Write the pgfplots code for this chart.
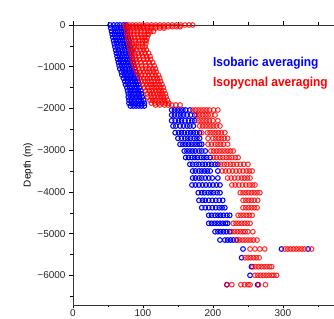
\documentclass[border=0pt]{standalone}
\usepackage{pgfplots}
\pgfplotsset{compat=1.18}
\usepackage{graphicx}
\usepackage{fontspec}
\setmainfont{Liberation Sans}
\definecolor{myblue}{RGB}{0,0,255}
\definecolor{myred}{RGB}{255,0,0}
\begin{document}
\begin{tikzpicture}
\begin{axis}[
  scale only axis, width=261bp, height=280bp,
  xmin=0, xmax=373, ymin=-6706, ymax=0,
  axis x line=box, axis y line*=left,
  xtick={0,100,200,300}, xticklabels={0,100,200,300},
  minor xtick={50,150,250,350},
  ytick={-6000,-5000,-4000,-3000,-2000,-1000,0},
  yticklabels={−6000,−5000,−4000,−3000,−2000,−1000,0},
  minor ytick={-6500,-5500,-4500,-3500,-2500,-1500,-500},
  xticklabel pos=left,
  tick align=outside,
  major tick length=3.5bp, minor tick length=2.5bp,
  tick style={black, line width=0.7bp},
  axis line style={black!80, line width=0.9bp},
  ticklabel style={font=\fontsize{10}{12}\selectfont, text=black!85},
  yticklabel style={xshift=-0.5bp},
  xticklabel style={yshift=2.5bp},
  ylabel={Depth (m)},
  ylabel style={font=\fontsize{9.5}{11}\selectfont, text=black!85},
  every axis y label/.style={at={(axis description cs:-0.172,0.5)}, rotate=90, anchor=center},
  clip=true,
]
% Isobaric averaging (blue)
\addplot[only marks, mark=o, color=myblue, mark size=2.35bp, mark options={line width=1.05bp}] coordinates {
(53,0)(58,0)(63,0)(67,0)(72,0)(76,0)
(54,-75)(59,-75)(63,-75)(68,-75)(72,-75)(77,-75)
(55,-150)(60,-150)(64,-150)(69,-150)(73,-150)(78,-150)
(56,-225)(60,-225)(65,-225)(69,-225)(74,-225)(78,-225)
(57,-300)(61,-300)(66,-300)(70,-300)(75,-300)(79,-300)
(58,-375)(62,-375)(67,-375)(71,-375)(76,-375)(80,-375)
(59,-450)(63,-450)(68,-450)(72,-450)(77,-450)(81,-450)
(60,-525)(64,-525)(69,-525)(73,-525)(78,-525)(82,-525)
(61,-600)(65,-600)(70,-600)(74,-600)(79,-600)(83,-600)
(62,-675)(66,-675)(71,-675)(75,-675)(80,-675)(84,-675)
(63,-750)(67,-750)(71,-750)(76,-750)(80,-750)(84,-750)
(64,-825)(68,-825)(72,-825)(77,-825)(81,-825)(85,-825)
(65,-900)(69,-900)(73,-900)(78,-900)(82,-900)(86,-900)
(66,-975)(70,-975)(74,-975)(79,-975)(83,-975)(87,-975)
(67,-1050)(71,-1050)(75,-1050)(80,-1050)(84,-1050)(88,-1050)
(69,-1125)(73,-1125)(77,-1125)(81,-1125)(85,-1125)(89,-1125)
(70,-1200)(74,-1200)(78,-1200)(82,-1200)(86,-1200)(90,-1200)
(72,-1275)(76,-1275)(80,-1275)(84,-1275)(88,-1275)(92,-1275)
(74,-1350)(78,-1350)(82,-1350)(85,-1350)(89,-1350)(93,-1350)
(75,-1425)(79,-1425)(83,-1425)(86,-1425)(90,-1425)(94,-1425)
(77,-1500)(81,-1500)(84,-1500)(88,-1500)(91,-1500)(95,-1500)
(78,-1575)(82,-1575)(86,-1575)(89,-1575)(93,-1575)(97,-1575)
(79,-1650)(83,-1650)(87,-1650)(90,-1650)(94,-1650)(98,-1650)
(79,-1725)(83,-1725)(87,-1725)(91,-1725)(95,-1725)(99,-1725)
(80,-1800)(84,-1800)(88,-1800)(93,-1800)(97,-1800)(101,-1800)
(80,-1875)(84,-1875)(89,-1875)(93,-1875)(98,-1875)(102,-1875)
(82,-1940)(86,-1940)(90,-1940)(94,-1940)(98,-1940)(102,-1940)
(141,-2036)(145,-2036)(149,-2036)(153,-2036)(157,-2036)(161,-2036)(167,-2036)
(141,-2156)(145,-2156)(150,-2156)(154,-2156)(158,-2156)(163,-2156)(168,-2156)(174,-2156)
(141,-2292)(146,-2292)(151,-2292)(155,-2292)(160,-2292)(165,-2292)(170,-2292)(174,-2292)
(143,-2419)(147,-2419)(153,-2419)(158,-2419)(163,-2419)(167,-2419)(172,-2419)
(146,-2580)(151,-2580)(155,-2580)(159,-2580)(164,-2580)(168,-2580)(172,-2580)(176,-2580)(181,-2580)
(150,-2714)(155,-2714)(160,-2714)(164,-2714)(168,-2714)(173,-2714)(177,-2714)(181,-2714)
(153,-2857)(157,-2857)(161,-2857)(165,-2857)(169,-2857)(173,-2857)(177,-2857)(181,-2857)(184,-2857)
(159,-3018)(163,-3018)(167,-3018)(171,-3018)(175,-3018)(180,-3018)(184,-3018)(189,-3018)
(161,-3174)(165,-3174)(170,-3174)(174,-3174)(178,-3174)(183,-3174)(187,-3174)(191,-3174)(196,-3174)
(167,-3337)(171,-3337)(176,-3337)(180,-3337)(185,-3337)(189,-3337)(194,-3337)(198,-3337)(203,-3337)(207,-3337)
(171,-3497)(175,-3497)(180,-3497)(184,-3497)(188,-3497)(192,-3497)(196,-3497)(207,-3497)
(171,-3665)(175,-3665)(180,-3665)(184,-3665)(189,-3665)(194,-3665)(199,-3665)(207,-3665)
(170,-3832)(175,-3832)(180,-3832)(185,-3832)(190,-3832)(195,-3832)(200,-3832)(205,-3832)(210,-3832)
(179,-4017)(184,-4017)(188,-4017)(193,-4017)(197,-4017)(201,-4017)(206,-4017)(210,-4017)
(180,-4199)(185,-4199)(189,-4199)(194,-4199)(199,-4199)(204,-4199)(209,-4199)(214,-4199)
(184,-4376)(189,-4376)(194,-4376)(199,-4376)(204,-4376)(209,-4376)(213,-4376)(217,-4376)
(194,-4558)(198,-4558)(203,-4558)(207,-4558)(211,-4558)(215,-4558)(220,-4558)(224,-4558)
(194,-4750)(198,-4750)(202,-4750)(206,-4750)(210,-4750)(214,-4750)(218,-4750)(221,-4750)
(203,-4951)(207,-4951)(211,-4951)(215,-4951)(219,-4951)(224,-4951)
(210,-5150)(217,-5150)(221,-5150)(225,-5150)(229,-5150)(234,-5150)
(243,-5365)(298,-5365)(336,-5365)
(241,-5574)
(255,-5789)
(253,-5995)
(220,-6220)(264,-6220)
};
% Isopycnal averaging (red)
\addplot[only marks, mark=o, color=myred, mark size=2.35bp, mark options={line width=1.05bp, draw opacity=0.8}] coordinates {
(75,0)(80,0)(85,0)(90,0)(95,0)(100,0)(106,0)(112,0)(118,0)(124,0)(130,0)(136,0)(142,0)(148,0)(154,0)(160,0)(166,0)(171,0)
(75,-40)(80,-40)(85,-40)(90,-40)(95,-40)(100,-40)(106,-40)(112,-40)(118,-40)(124,-40)(130,-40)(136,-40)(142,-40)(148,-40)(153,-40)
(76,-75)(81,-75)(86,-75)(91,-75)(96,-75)(101,-75)(106,-75)(112,-75)(118,-75)(124,-75)(130,-75)
(77,-150)(82,-150)(87,-150)(92,-150)(97,-150)(102,-150)(107,-150)(111,-150)(115,-150)
(77,-225)(82,-225)(87,-225)(92,-225)(97,-225)(102,-225)(106,-225)(108,-225)
(78,-300)(83,-300)(88,-300)(93,-300)(98,-300)(102,-300)(106,-300)
(79,-375)(84,-375)(89,-375)(94,-375)(99,-375)(103,-375)(105,-375)
(80,-450)(85,-450)(90,-450)(94,-450)(99,-450)(104,-450)
(81,-525)(86,-525)(90,-525)(94,-525)(99,-525)(103,-525)
(82,-600)(86,-600)(91,-600)(96,-600)(101,-600)(105,-600)
(83,-675)(88,-675)(93,-675)(98,-675)(103,-675)(108,-675)
(84,-750)(89,-750)(94,-750)(100,-750)(105,-750)(110,-750)
(85,-825)(90,-825)(95,-825)(101,-825)(106,-825)(111,-825)
(86,-900)(91,-900)(97,-900)(103,-900)(109,-900)(114,-900)
(87,-975)(92,-975)(98,-975)(104,-975)(110,-975)(116,-975)
(89,-1050)(94,-1050)(99,-1050)(104,-1050)(109,-1050)(114,-1050)(118,-1050)
(91,-1125)(96,-1125)(101,-1125)(106,-1125)(110,-1125)(115,-1125)(119,-1125)
(93,-1200)(98,-1200)(103,-1200)(108,-1200)(113,-1200)(118,-1200)(122,-1200)
(96,-1275)(101,-1275)(106,-1275)(110,-1275)(115,-1275)(120,-1275)(124,-1275)
(98,-1350)(103,-1350)(107,-1350)(112,-1350)(116,-1350)(121,-1350)(125,-1350)
(100,-1425)(105,-1425)(110,-1425)(114,-1425)(118,-1425)(123,-1425)(127,-1425)
(102,-1500)(107,-1500)(112,-1500)(116,-1500)(120,-1500)(125,-1500)(129,-1500)
(104,-1575)(109,-1575)(113,-1575)(118,-1575)(122,-1575)(126,-1575)(130,-1575)
(106,-1650)(111,-1650)(115,-1650)(120,-1650)(124,-1650)(128,-1650)(132,-1650)
(107,-1725)(112,-1725)(116,-1725)(121,-1725)(125,-1725)(129,-1725)(133,-1725)
(110,-1800)(114,-1800)(118,-1800)(123,-1800)(127,-1800)(131,-1800)(135,-1800)
(112,-1870)(117,-1870)(122,-1870)(127,-1870)(132,-1870)(137,-1870)
(118,-1916)(124,-1916)(131,-1916)(136,-1916)(141,-1916)(147,-1916)(153,-1916)
(171,-2036)(175,-2036)(179,-2036)(183,-2036)(187,-2036)(191,-2036)(195,-2036)(201,-2036)(207,-2036)
(177,-2156)(181,-2156)(185,-2156)(189,-2156)(193,-2156)(197,-2156)(203,-2156)
(179,-2292)(183,-2292)(187,-2292)(191,-2292)(195,-2292)(200,-2292)(207,-2292)
(181,-2419)(185,-2419)(189,-2419)(193,-2419)(197,-2419)(201,-2419)(205,-2419)(210,-2419)
(184,-2580)(192,-2580)(196,-2580)(200,-2580)(204,-2580)(208,-2580)(212,-2580)(217,-2580)
(193,-2714)(200,-2714)(204,-2714)(208,-2714)(212,-2714)(216,-2714)(221,-2714)
(193,-2857)(198,-2857)(203,-2857)(207,-2857)(211,-2857)(215,-2857)(221,-2857)
(197,-3018)(201,-3018)(205,-3018)(209,-3018)(213,-3018)(217,-3018)(221,-3018)(225,-3018)(229,-3018)
(201,-3174)(205,-3174)(210,-3174)(214,-3174)(219,-3174)(223,-3174)(227,-3174)(232,-3174)(236,-3174)
(211,-3337)(216,-3337)(220,-3337)(225,-3337)(229,-3337)(234,-3337)(239,-3337)(244,-3337)(250,-3337)
(213,-3497)(218,-3497)(223,-3497)(228,-3497)(233,-3497)(238,-3497)(243,-3497)(248,-3497)(252,-3497)(256,-3497)
(221,-3665)(226,-3665)(231,-3665)(236,-3665)(241,-3665)(245,-3665)(249,-3665)(253,-3665)
(227,-3832)(232,-3832)(237,-3832)(242,-3832)(247,-3832)(252,-3832)(256,-3832)(260,-3832)
(239,-4017)(243,-4017)(247,-4017)(251,-4017)(255,-4017)(259,-4017)(263,-4017)(267,-4017)
(243,-4199)(247,-4199)(251,-4199)(255,-4199)(259,-4199)(264,-4199)
(243,-4376)(247,-4376)(251,-4376)(255,-4376)(259,-4376)(263,-4376)
(236,-4558)(240,-4558)(244,-4558)(248,-4558)(252,-4558)(256,-4558)
(229,-4750)(233,-4750)(237,-4750)(241,-4750)(245,-4750)(249,-4750)(253,-4750)
(227,-4951)(231,-4951)(235,-4951)(239,-4951)(243,-4951)(246,-4951)(250,-4951)(257,-4951)
(234,-5150)(238,-5150)(242,-5150)(246,-5150)(250,-5150)(254,-5150)(258,-5150)(263,-5150)
(253,-5365)(260,-5365)(267,-5365)(274,-5365)(303,-5365)(307,-5365)(311,-5365)(315,-5365)(319,-5365)(323,-5365)(327,-5365)(331,-5365)(341,-5365)
(246,-5574)(250,-5574)(254,-5574)(258,-5574)(262,-5574)(266,-5574)
(257,-5789)(261,-5789)(265,-5789)(269,-5789)(273,-5789)(277,-5789)(281,-5789)(284,-5789)
(260,-5995)(264,-5995)(268,-5995)(272,-5995)(276,-5995)(280,-5995)(284,-5995)(287,-5995)(291,-5995)
(220,-6220)(227,-6220)(240,-6220)(245,-6220)(250,-6220)(253,-6220)(265,-6220)(275,-6220)
};
\node[anchor=base west, text=myblue, font=\fontsize{13}{15}\selectfont\bfseries, inner sep=0pt] at (axis cs:200,-982) {\scalebox{0.92}[1]{Isobaric averaging}};
\node[anchor=base west, text=myred, font=\fontsize{13}{15}\selectfont\bfseries, inner sep=0pt] at (axis cs:200,-1461) {\scalebox{0.92}[1]{Isopycnal averaging}};
\coordinate (BL) at (rel axis cs:-0.2797,-0.05);
\coordinate (TR) at (rel axis cs:1,1.0893);
\end{axis}
\pgfresetboundingbox
\path[use as bounding box] (BL) rectangle (TR);
\end{tikzpicture}
\end{document}
